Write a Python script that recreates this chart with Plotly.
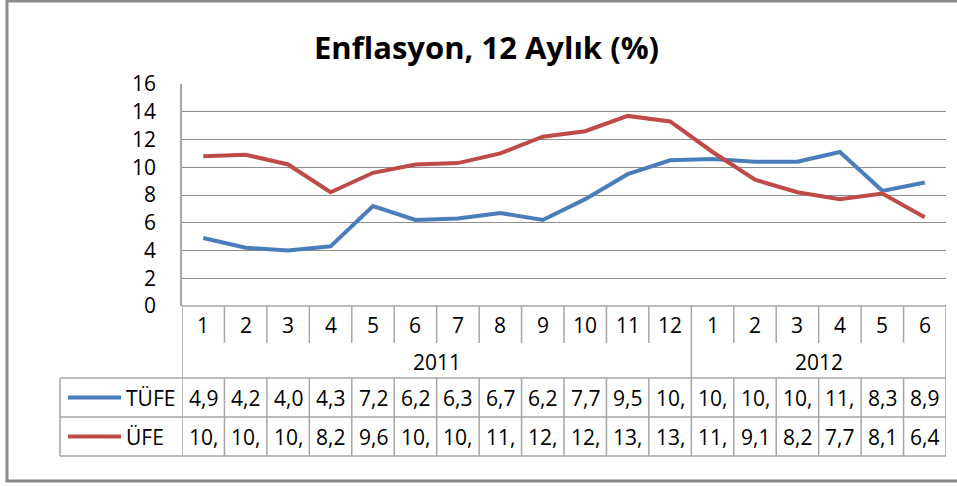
import plotly.graph_objects as go

# ---- data ----
months = ["1", "2", "3", "4", "5", "6", "7", "8", "9", "10", "11", "12",
          "1", "2", "3", "4", "5", "6"]
years = ["2011", "2012"]
year_counts = [12, 6]
tufe = [4.9, 4.2, 4.0, 4.3, 7.2, 6.2, 6.3, 6.7, 6.2, 7.7, 9.5, 10.5,
        10.6, 10.4, 10.4, 11.1, 8.3, 8.9]
ufe = [10.8, 10.9, 10.2, 8.2, 9.6, 10.2, 10.3, 11.0, 12.2, 12.6, 13.7, 13.3,
       11.1, 9.1, 8.2, 7.7, 8.1, 6.4]
series_names = ["TÜFE", "ÜFE"]
title_text = "Enflasyon, 12 Aylık (%)"

# ---- style / layout ----
W, H = 957, 486
colors = ["#4A7EBB", "#BE4B48"]
FONT = "Open Sans"
grid_col = "#8e8e8e"
tab_col = "#a6a6a6"


def px(x):
    return x / W


def py(y):
    return 1 - y / H


PLOT_L, PLOT_R, PLOT_T, PLOT_B = 182, 946, 84, 306
MONTH_B, YEAR_B = 343, 378
ROW1_B, ROW2_B = 417, 456
TABLE_L = 60

n = len(months)
xs = list(range(n))
series = [tufe, ufe]

fig = go.Figure()
for name, vals, col in zip(series_names, series, colors):
    fig.add_trace(go.Scatter(x=xs, y=vals, mode="lines", name=name,
                             line=dict(color=col, width=4),
                             showlegend=False, hoverinfo="x+y"))

shapes = []
annotations = []

# outer chart frame
shapes.append(dict(type="rect", xref="paper", yref="paper",
                   x0=px(7), x1=px(W + 10), y0=py(481), y1=py(1),
                   line=dict(color="#8a8a8a", width=3), layer="below"))

# category axis line and table horizontal lines
shapes.append(dict(type="line", xref="paper", yref="paper",
                   x0=px(PLOT_L), x1=px(PLOT_R), y0=py(PLOT_B), y1=py(PLOT_B),
                   line=dict(color=tab_col, width=1.5)))
for yy in [YEAR_B, ROW1_B, ROW2_B]:
    shapes.append(dict(type="line", xref="paper", yref="paper",
                       x0=px(TABLE_L), x1=px(PLOT_R), y0=py(yy), y1=py(yy),
                       line=dict(color=tab_col, width=1.5)))
shapes.append(dict(type="line", xref="paper", yref="paper",
                   x0=px(TABLE_L), x1=px(TABLE_L), y0=py(YEAR_B), y1=py(ROW2_B),
                   line=dict(color=tab_col, width=1.5)))

# vertical separators through the category axis and data table
year_bounds = [0]
for c in year_counts:
    year_bounds.append(year_bounds[-1] + c)
for i in range(n + 1):
    xb = i - 0.5
    if i in year_bounds:
        segs = [(PLOT_B, ROW2_B)]
    else:
        segs = [(PLOT_B, MONTH_B), (YEAR_B, ROW2_B)]
    for a, b in segs:
        shapes.append(dict(type="line", xref="x", yref="paper",
                           x0=xb, x1=xb, y0=py(a), y1=py(b),
                           line=dict(color=tab_col, width=1.5)))

tick_font = dict(family=FONT, size=21, color="#000000")

# month labels
for i, m in enumerate(months):
    annotations.append(dict(x=i, y=py((PLOT_B + MONTH_B) / 2), xref="x", yref="paper",
                            text=m, showarrow=False, font=tick_font,
                            xanchor="center", yanchor="middle"))
# year labels
for k, yr in enumerate(years):
    mid = (year_bounds[k] + year_bounds[k + 1] - 1) / 2
    annotations.append(dict(x=mid, y=py((MONTH_B + YEAR_B) / 2 + 1), xref="x", yref="paper",
                            text=yr, showarrow=False, font=tick_font,
                            xanchor="center", yanchor="middle"))


def cell(v):
    return f"{v:.1f}".replace(".", ",")[:3]


row_mids = [(YEAR_B + ROW1_B) / 2, (ROW1_B + ROW2_B) / 2]
for r, (name, vals, col) in enumerate(zip(series_names, series, colors)):
    yc = row_mids[r]
    for i, v in enumerate(vals):
        annotations.append(dict(x=i, y=py(yc), xref="x", yref="paper",
                                text=cell(v), showarrow=False, font=tick_font,
                                xanchor="center", yanchor="middle"))
    shapes.append(dict(type="line", xref="paper", yref="paper",
                       x0=px(68), x1=px(121), y0=py(yc), y1=py(yc),
                       line=dict(color=col, width=4)))
    annotations.append(dict(x=px(124), y=py(yc), xref="paper", yref="paper",
                            text=name, showarrow=False, font=tick_font,
                            xanchor="left", yanchor="middle"))

# title
annotations.append(dict(x=px(486), y=py(47), xref="paper", yref="paper",
                        text="<b>" + title_text + "</b>", showarrow=False,
                        font=dict(family=FONT, size=31, color="#000000"),
                        xanchor="center", yanchor="middle"))

fig.update_layout(
    width=W, height=H, autosize=False,
    margin=dict(l=0, r=0, t=0, b=0, pad=0),
    paper_bgcolor="white", plot_bgcolor="white",
    shapes=shapes, annotations=annotations,
    xaxis=dict(range=[-0.5, n - 0.5], domain=[px(PLOT_L), px(PLOT_R)],
               showgrid=False, showticklabels=False, zeroline=False,
               showline=False, fixedrange=True, automargin=False),
    yaxis=dict(range=[0, 16], domain=[py(PLOT_B), py(PLOT_T)], dtick=2,
               tick0=0, showgrid=True, gridcolor=grid_col, gridwidth=1.2,
               zeroline=False, showline=True, linecolor=tab_col, linewidth=1.5,
               ticks="", ticklabelstandoff=20, tickfont=tick_font,
               fixedrange=True, automargin=False),
)

fig.write_html("out.html", config={"displayModeBar": False},
               post_script="document.body.style.margin='0';"
                           "document.body.style.overflow='hidden';")
